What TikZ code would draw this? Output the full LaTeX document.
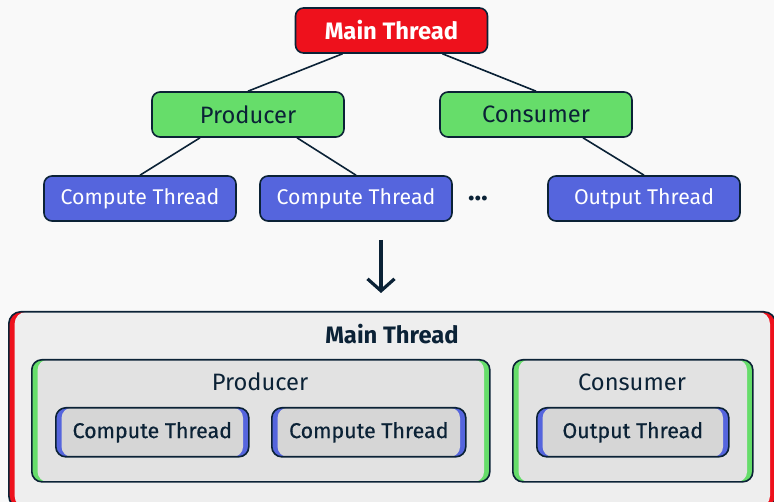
\documentclass[tikz,border=0pt]{standalone}
\usepackage{fontspec}
\setmainfont{Fira Sans}
\usetikzlibrary{arrows.meta}

\definecolor{ink}{HTML}{0B2236}
\definecolor{cRed}{HTML}{EE111C}
\definecolor{cGreen}{HTML}{66DD6A}
\definecolor{cBlue}{HTML}{5565DD}
\definecolor{paper}{HTML}{F9F9F9}
\definecolor{shadeA}{HTML}{EEEEEE}
\definecolor{shadeB}{HTML}{E2E2E2}
\definecolor{shadeC}{HTML}{D6D6D6}

\tikzset{
  tnode/.style={draw=ink, line width=1.6pt, rounded corners=8pt,
    minimum width=192pt, minimum height=45pt, inner sep=0pt},
  edge/.style={draw=ink, line width=1.6pt},
  % container: coloured side strips under an inset grey fill
  framebox/.style 2 args={draw=ink, line width=1.6pt, rounded corners=#1,
    fill=#2},
  inset/.style 2 args={path picture={
      \fill[#2, rounded corners=#1]
        ([xshift=5.8pt]path picture bounding box.south west) rectangle
        ([xshift=-5.8pt]path picture bounding box.north east);}},
  bigfont/.style={font=\fontsize{23.7}{28}\selectfont},
  midfont/.style={font=\fontsize{21.3}{25}\selectfont},
  boldfont/.style={font=\fontsize{23.8}{28}\selectfont\bfseries},
  innerfont/.style={font=\fontsize{21.4}{25}\selectfont\addfontfeatures{FakeBold=0.6}},
}

\begin{document}
\begin{tikzpicture}[x=1pt, y=-1pt]
  \fill[paper] (0,0) rectangle (774,502);
  \useasboundingbox (0,0) rectangle (774,502);
  \clip (0,0) rectangle (774,502);

  % ---- hierarchy ----
  \node[tnode, fill=cRed, text=white, boldfont] (main) at (391.5,30.5) {Main Thread};
  \node[tnode, fill=cGreen, text=ink, bigfont] (prod) at (248,114.5) {Producer};
  \node[tnode, fill=cGreen, text=ink, bigfont] (cons) at (536,114.5) {Consumer};
  \node[tnode, fill=cBlue, text=white, midfont] (ct1) at (140,198.5) {Compute Thread};
  \node[tnode, fill=cBlue, text=white, midfont] (ct2) at (356,198.5) {Compute Thread};
  \node[tnode, fill=cBlue, text=white, midfont] (out) at (644,198.5) {Output Thread};
  \node[text=ink, font=\fontsize{27}{30}\selectfont\bfseries] (dots) at (478,199) {…};

  \draw[edge] ([xshift=-49pt]main.south) -- (prod.north);
  \draw[edge] ([xshift=51pt]main.south) -- (cons.north);
  \draw[edge] ([xshift=-48pt]prod.south) -- (ct1.north);
  \draw[edge] ([xshift=49pt]prod.south) -- (ct2.north);
  \draw[edge] ([xshift=47pt]cons.south) -- (out.north);

  % ---- transition arrow ----
  \coordinate (arrTop) at (381,240);
  \coordinate (arrEnd) at (381,293);
  \draw[draw=ink, line width=3.2pt, -{Straight Barb[length=12pt,width=27pt,line width=3.2pt]}]
    (arrTop) -- (arrEnd);

  % ---- nested view ----
  \node[framebox={12pt}{cRed}, inset={12pt}{shadeA}, minimum width=767pt,
    minimum height=196pt, anchor=north west] (outer) at (8,311) {};
  \node[text=ink, boldfont] (outerT) at (392,334) {Main Thread};

  \node[framebox={10pt}{cGreen}, inset={10pt}{shadeB}, minimum width=458pt,
    minimum height=122pt, anchor=north west] (pbox) at (31,359) {};
  \node[text=ink, bigfont] (pboxT) at (260,382) {Producer};

  \node[framebox={10pt}{cGreen}, inset={10pt}{shadeB}, minimum width=240pt,
    minimum height=122pt, anchor=north west] (cbox) at (512,359) {};
  \node[text=ink, bigfont] (cboxT) at (632,382) {Consumer};

  \node[framebox={10pt}{cBlue}, inset={10pt}{shadeC}, minimum width=193pt,
    minimum height=49pt, anchor=north west, text=ink, innerfont] (ic1) at (55,407) {Compute Thread};
  \node[framebox={10pt}{cBlue}, inset={10pt}{shadeC}, minimum width=194pt,
    minimum height=49pt, anchor=north west, text=ink, innerfont] (ic2) at (271,407) {Compute Thread};
  \node[framebox={10pt}{cBlue}, inset={10pt}{shadeC}, minimum width=192pt,
    minimum height=49pt, anchor=north west, text=ink, innerfont] (io) at (536,407) {Output Thread};
\end{tikzpicture}
\end{document}
